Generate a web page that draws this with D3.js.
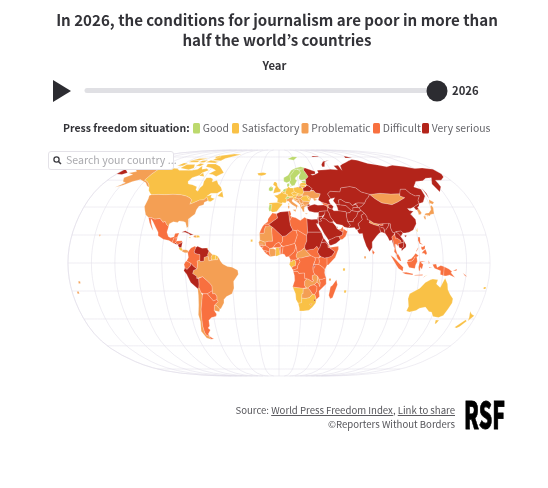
<!DOCTYPE html>
<html>
<head>
<meta charset="utf-8">
<script src="https://cdn.jsdelivr.net/npm/d3@7"></script>
<style>
  html, body { margin: 0; background: #fff; }
  svg { display: block; font-family: "Noto Sans CJK KR", "Noto Sans", sans-serif; filter: blur(0.3px); }
  .underlined { text-decoration: underline; }
</style>
</head>
<body>
<div id="main-frame"></div>
<script>
const titleLines = ["In 2026, the conditions for journalism are poor in more than", "half the world’s countries"];
const years = [2013, 2026];
const currentYear = 2026;
const situations = ["Good", "Satisfactory", "Problematic", "Difficult", "Very serious"];
const situationColors = ["#bcd96d", "#f9c146", "#f49f54", "#f8703f", "#b3241a"];

// Country outlines, [name, [lon,lat,lon,lat,...], ...] - rough
const good = [
  ["Norway", [5,59,5,62,10,64,14,68,20,70,26,71,31,70,29,69,25.7,69,21,69,18,68.5,14.5,65.5,12,63.5,12.2,60,11,59,8,58], [12,78,20,80.3,27,80,20,77]],
  ["Sweden", [11,59,12.2,60,12,63.5,14.5,65.5,18,68.5,21,69,23.7,67.8,24,65.8,21.5,64.5,17.5,62,17.2,60.7,18.8,59.8,16.5,57,15.8,56,13,55.4,11,58]],
  ["Finland", [21,69,25.7,69,29,69.5,28.5,68,30,65.5,31.5,62.8,27.8,60.5,23,59.9,21.2,61,21.5,63,24,65.8,23.7,67.8]],
  ["Denmark", [8.1,55,8.2,57,10.6,57.7,10.5,56,9.8,54.9], [11,55.3,12.5,56,12.3,55]],
  ["Estonia", [23.5,58.8,23.5,59.3,28,59.5,27.5,57.6,24.5,58]],
  ["Ireland", [-10,52,-10,54,-8,55.2,-6,54.2,-6,52.3,-8,51.6]],
  ["Netherlands", [3.4,51.4,4.8,53,7,53.5,7,52.3,6,51,5.8,50.8,4.5,51.3]],
  ["Portugal", [-8.9,41.9,-6.5,41.8,-7,39.6,-7.4,37.2,-8.9,37,-9.5,38.8]],
  ["Switzerland", [6,46.2,7.6,47.6,9.6,47.5,10.4,46.8,8.7,46,7.5,45.8]]
];

const satisfactory = [
  ["Canada", [-141,69.6,-135,69,-128,70,-120,69.5,-115,68,-108,68,-100,68,-95,69,-94,72,-90,69,-85,69.5,-81,68,-86,66,-87,64,-93,62,-94.5,59,-92.5,57,-88,56.5,-82.5,55,-82,52.5,-79.5,51.5,-79,54,-77,56,-78,59,-77.5,62,-73,62,-70,61,-69,58.5,-65,60,-62,57,-58,54.5,-56,52,-60,50,-66,50,-69,48,-65,49,-65,47,-61,46,-64,44,-66,44,-67.5,45.5,-69,47.3,-71,45.2,-75,45,-79,43.5,-83,42,-82.5,45,-84.5,46.5,-89,48,-95,49,-110,49,-123,49,-125,50,-128,52,-130,54.5,-133,57,-137,59,-141,60],
    [-62,66,-68,63,-73,64.5,-78,65,-73,68,-80,70,-88,71,-90,73.5,-80,73.5,-72,71.5,-67,69],
    [-117,70,-105,68.5,-101,70,-105,73,-115,73],
    [-90,77,-78,76.5,-76,78.5,-66,81.5,-62,82.5,-75,83,-90,81.5],
    [-125,72,-118,72,-116,74,-122,74.5],
    [-95,75,-82,74.5,-80,75.5,-92,76.8],
    [-117,75,-106,75,-106,76.5,-117,76.5],
    [-59,48,-53,47,-55.5,51.5],
    [-87,63.5,-81,63,-85,66],
    [-95,80,-88,78.5,-86,80,-92,81.5],
    [-102,72,-96,71.5,-94,73.5,-100,74],
    [-120,76,-108,77,-100,78.5,-112,78.5],
    [-104,75,-97,74.8,-96,76.8,-103,76.5]],
  ["Iceland", [-24,65.5,-18,66.3,-14,65.5,-15,64.3,-19,63.5,-22.5,64]],
  ["United Kingdom", [-5.5,50,-1,50.7,1.4,51.2,1.7,52.7,0,53.5,-1.6,55.5,-2,57.6,-3.5,58.6,-5,58.6,-6,56.5,-3.2,54.9,-4.5,53.3,-5,51.7], [-8,55,-5.6,54.6,-6.3,54.1,-8,54.4]],
  ["Germany", [7,53.5,8.9,54,8.8,54.9,9.8,54.9,11,54,14.2,53.9,14.6,52.5,15,51,12.2,50.2,13.8,48.6,13,47.5,7.6,47.6,8.2,49,6.3,49.5,6,51,7,52.3]],
  ["Belgium", [2.6,51.1,3.4,51.4,4.5,51.3,5.8,50.8,6,50.2,5.8,49.6,4.2,50]],
  ["France", [2.6,51.1,4.2,50,5.8,49.6,6.3,49.5,8.2,49,7.6,47.6,6,46.2,7.5,45.8,7,44,6,43,3,43.2,3,42.4,-1.7,43.3,-1.2,46,-4.7,48.3,-1.5,48.7,1.5,50], [8.7,41.6,8.7,42.7,9.5,43,9.4,41.5], [-54,5.8,-51.7,4.3,-52.5,2.3,-54.5,2.3]],
  ["Spain", [-9.3,43,-8.9,41.9,-6.5,41.8,-7,39.6,-7.4,37.2,-6,36.2,-2,36.8,0,39,3,41.7,3,42.4,-1.7,43.3]],
  ["Poland", [14.2,53.9,18.5,54.8,22.8,54.4,23.8,53.2,24,50.6,22.6,49.1,19,49.5,15,51,14.6,52.5]],
  ["Latvia", [21,56.9,22.6,57.7,24.5,58,27.5,57.6,28.2,56.1,26,55.8,21,56.3]],
  ["Lithuania", [21,56.3,26,55.8,26.7,55,24,54,22.8,54.4,21,55.3]],
  ["Czechia", [12.2,50.2,15,51,19,49.5,17,48.8,13.8,48.6]],
  ["Austria", [9.6,47.5,13,47.5,13.8,48.6,17,48.8,16.2,46.9,13.7,46.5,10.4,46.8]],
  ["Slovakia", [17,48.8,19,49.5,22.6,49.1,22.2,48.4,18.8,47.9]],
  ["Slovenia", [13.7,46.5,16.2,46.9,16.6,46.5,15.5,45.5,13.7,45.6]],
  ["Moldova", [26.6,48.2,28,48.2,30,46.4,28.2,45.5]],
  ["Romania", [20.3,46.2,22.9,48,26.6,48.2,28.2,45.5,29.6,45,28.6,43.7,27.5,44,22.5,44.2]],
  ["Costa Rica", [-85.7,11.1,-83.7,11,-82.6,9.5,-83.6,8.5,-85.8,10]],
  ["Dominican Republic", [-71.7,18,-68.5,18.4,-69.5,19.7,-71.7,19.8]],
  ["Jamaica", [-78.3,18.5,-76.3,18.3,-77,17.7]],
  ["Suriname", [-57,6,-54,5.8,-54.5,2.3,-57.5,2,-58,4]],
  ["Trinidad and Tobago", [-61.9,10.9,-60.9,10.8,-60.9,10,-61.9,10]],
  ["Cape Verde", [-24.4,16.8,-22.8,16.8,-22.8,15.1,-24.4,15.1]],
  ["Ghana", [-2.8,11,0,11,0.5,8,1.1,6,-2,4.8,-3,5.1,-2.8,9.5]],
  ["Gabon", [9.5,1,11.3,1,11.3,2.2,13.3,2.2,14.3,1,14,-2,11.5,-2.5,11,-3.8,8.8,-1]],
  ["Namibia", [11.8,-17,14,-17.4,20.5,-18,25,-17.8,21,-18.3,21,-22,20,-22,20,-28.4,17,-28.8,15,-26,14.4,-22]],
  ["South Africa", [17,-28.8,20,-28.4,20,-25,23,-25.3,26.7,-24.7,29.3,-22.2,31.3,-22.4,32.9,-26.5,32.5,-28.5,30,-31.5,27,-33.7,22,-34.2,18.5,-34.3,18.2,-32]],
  ["Seychelles", [54.6,-3.8,56.4,-3.8,56.4,-5.6,54.6,-5.6]],
  ["Mauritius", [56.6,-19.4,58.4,-19.4,58.4,-21.2,56.6,-21.2]],
  ["Taiwan", [120.2,23,121.5,25.2,121,22]],
  ["Timor-Leste", [125,-9.2,127.3,-8.4,125.2,-9.5]],
  ["Australia", [114,-22,122,-18,126,-14,130,-12,132,-11.5,136.5,-12,135.7,-15,139.5,-17.5,141.7,-12.5,142.5,-10.8,145.3,-15,146.5,-19,149.5,-22.5,153,-25.5,153.5,-28.5,150,-37.5,146.5,-39,141,-38.2,138,-35,135.7,-34.8,131,-31.5,126,-32.3,123.5,-34,118,-35,115,-34.3,115.7,-31,113.5,-25.5], [145,-40.8,148.3,-41,147,-43.5,146,-43.5]],
  ["New Zealand", [172.7,-34.5,175.5,-36.7,178.5,-37.7,175.3,-41.5,174.7,-39], [172.7,-40.5,174.3,-41.7,171,-45.5,169,-46.6,166.5,-46,170,-43]],
  ["Fiji", [177.2,-17.2,179,-17.2,179,-18.6,177.2,-18.6]]
];

const problematic = [
  ["United States", [-124.7,48.4,-123,49,-110,49,-95,49,-89,48,-84.5,46.5,-82.5,45,-83,42,-79,43.5,-75,45,-71,45.2,-69,47.3,-67.5,45.5,-67,44.5,-70,43.5,-70,41.7,-74,40.5,-75.5,38,-76,35,-81,31.5,-80,26,-81,25,-83,29,-85,29.7,-89,30,-90,29,-94,29.5,-97,28,-97.2,26,-99.5,27.5,-101.5,29.8,-103,29,-106.5,31.8,-111,31.3,-114.8,32.5,-117.1,32.5,-120.5,34.5,-122.5,37.5,-124.3,40.3,-124,46],
    [-141,69.6,-141,60,-137,59,-133,57,-130,54.5,-133,55.5,-137,58,-146,60.5,-152,59,-158,56,-164,54.5,-158,58,-162,59,-166,62,-161,64.5,-168,65.7,-162,67,-166,68.5,-157,71,-150,70.5],
    [-156,20.5,-155,20,-155.5,19,-156,19.5]],
  ["Panama", [-82.6,9.5,-79.5,9.5,-77.3,8.6,-78,7.3,-80.5,7.3,-83,8.2]],
  ["Haiti", [-74.4,18.5,-72,18,-71.7,19.7,-73.3,19.9]],
  ["Guyana", [-60,8.5,-57,6,-58,4,-57.5,2,-59.8,1.5,-60,3,-60.7,5,-61,6]],
  ["Brazil", [-60.7,5,-60,3,-59.8,1.5,-57.5,2,-54.5,2.3,-52.5,2.3,-51.7,4.3,-50,1.5,-48,-0.7,-44,-2.5,-40,-3,-35.3,-5.2,-34.8,-8,-39,-13,-39,-18,-41,-22,-46,-24,-48.5,-26,-48.8,-28.5,-52,-32.5,-53.2,-33,-56,-30.2,-57.6,-30.2,-53.8,-27.5,-54.7,-26,-54.5,-24,-55.7,-22,-57.9,-22,-58,-19.8,-58,-16.3,-60.5,-13.7,-65.5,-9.8,-70.6,-11,-70.5,-9.5,-73.9,-7.5,-72.9,-5.2,-70,-4.2,-69.5,-0.5,-70,1.5,-67.5,2,-67,1,-64,1.5,-64,4]],
  ["Chile", [-70.4,-18.3,-69.4,-17.5,-69,-18,-68,-21,-67,-23,-70,-33,-71,-39,-72,-45,-72,-50,-71,-52,-68.5,-52.5,-68.6,-55,-72,-54,-75,-49,-73,-42,-73.5,-37,-71.5,-30,-70.5,-23]],
  ["Uruguay", [-57.6,-30.2,-56,-30.2,-53.2,-33,-54,-34.8,-58.4,-34]],
  ["Italy", [7,44,7.5,45.8,8.7,46,10.4,46.8,13.7,46.5,13.7,45.6,12.3,45.3,12.4,44,16,41.8,18.5,40.2,17,40.5,16.5,39.5,16,38,15.7,40,12.3,41.7,10.5,43,8.8,44.4], [12.5,38,15.6,38.2,15.1,36.7], [8.2,41,9.7,41,9.5,39.2,8.4,39]],
  ["Hungary", [16.2,46.9,17,48.8,18.8,47.9,22.2,48.4,22.9,48,20.3,46.2,18.8,45.9,16.6,46.5]],
  ["Croatia", [13.7,45.6,15.5,45.5,16.6,46.5,18.8,45.9,19,45,15.9,44.7,18.5,42.5,15,44.5,14,45]],
  ["Bosnia", [15.9,44.7,19,45,19.5,43.7,18.5,42.5]],
  ["Serbia", [18.8,45.9,20.3,46.2,22.5,44.5,22.4,42.5,20.5,42.3,19.5,43.7,19,45]],
  ["Montenegro", [18.5,42.5,19.5,43.7,20.5,42.7,19.3,41.9]],
  ["Albania", [19.3,41.9,20.5,42.3,21,40.6,20,39.7]],
  ["North Macedonia", [20.5,42.3,22.4,42.5,23,41.3,21,40.9]],
  ["Greece", [20,39.7,21,40.6,23,41.3,26.3,41.7,26,40.8,23.5,40,23,38,23,36.5,21.7,36.8,21.2,38.3], [23.6,35.6,26.3,35.3,24.5,34.9]],
  ["Bulgaria", [22.4,42.5,22.5,44.2,27.5,44,28.5,43.5,27.7,42,26.3,41.7,23,41.3]],
  ["Ukraine", [22.2,48.4,22.6,49.1,24,50.6,24,51.6,30.5,51.5,34,52.2,35.5,50.4,40,49.6,38.2,47.1,35,46.2,33.6,46,36.5,45.3,33.5,44.5,32.5,45.3,33,46,30.7,46.5,29.6,45,28.2,45.5,30,46.4,28,48.2,26.6,48.2,22.9,48]],
  ["Armenia", [43.6,41,45,41.2,46.5,39,44.8,39.7]],
  ["Mauritania", [-17,21.3,-13,21.3,-13,23.4,-12,26,-8.7,27.3,-4.8,25,-6.5,25,-5.5,15.5,-9,15.5,-12,14.8,-16.5,16.2]],
  ["Senegal", [-17.5,14.7,-16.5,16.2,-12,14.8,-11.3,12.3,-16.8,12.4]],
  ["Ivory Coast", [-8.3,7.6,-8,10.3,-5,10.3,-2.8,9.5,-3,5.1,-7.5,4.4]],
  ["Central African Republic", [14.5,5,15.5,7.5,19,9,22,11,23,9,27.4,5.2,23,4.5,19,3.5,16.5,3.5,16,2.5]],
  ["Botswana", [20,-22,21,-22,21,-18.3,25,-17.8,27,-19.5,29.3,-22.2,26.7,-24.7,23,-25.3,20,-25]],
  ["Zambia", [22,-13,24,-11,25,-11.5,29,-13.4,29.8,-12.2,28.5,-12,28.5,-9,30.7,-8.2,33,-9.3,33.2,-11,32.7,-13.5,30.4,-15.6,27.5,-16,25,-17.8,23.4,-17.6,22,-16]],
  ["Malawi", [33,-9.3,34.5,-11.6,35.5,-14,35.3,-17,34.3,-15,32.7,-13.5,33.2,-11]],
  ["Lesotho", [27,-29.5,29.4,-29,28.5,-30.5]],
  ["Comoros", [42.9,-11,44.6,-11,44.6,-12.6,42.9,-12.6]],
  ["Mongolia", [87.5,49.2,98,50,108,49.5,117,49.7,116,48,119.9,46.8,111,43.5,105,41.7,96,43,91,46]],
  ["Japan", [131,34,133,35.5,136,35.8,139,38,140,40.5,141.4,41.3,142,39.5,141,37,140.5,35.2,137,34.6,135.7,33.5,133,34.3], [130,33.3,131.8,33.5,131.4,31.3,130.3,31.3], [140,41.8,141.7,45.4,145.2,43.5,143,42,141,42.7], [132.5,33.5,134.5,34.3,134,33.4]],
  ["South Korea", [126,37.8,128.3,38.6,129.4,36,128.5,34.8,126.3,34.5,126.5,36.5]],
  ["Nepal", [80,28.8,81,30.3,84,28.5,88,27.9,88,26.4,84,27.3]],
  ["Maldives", [72.7,4.8,74.2,4.8,74.2,3.2,72.7,3.2]],
  ["Samoa", [-172.6,-13,-171,-13,-171,-14.6,-172.6,-14.6]],
  ["Tonga", [-175.8,-20.4,-174.2,-20.4,-174.2,-22,-175.8,-22]]
];

const difficult = [
  ["Mexico", [-117.1,32.5,-114.8,32.5,-111,31.3,-106.5,31.8,-103,29,-101.5,29.8,-99.5,27.5,-97.2,26,-97.8,22,-96,19,-94,18,-91,18.7,-90.5,21,-87,21.5,-88,18.5,-89,17.9,-91,17.8,-92,14.6,-95,16,-100,17,-105,19.5,-105.5,22,-109,26,-112.5,30,-114.7,31.7,-113,28,-110,23,-112,25,-115,29]],
  ["Guatemala", [-92,14.6,-91,17.8,-89,17.9,-88.3,15.7,-89.3,14.4,-90,13.8]],
  ["Belize", [-89,17.9,-88,18.5,-88.3,16,-89.2,15.9]],
  ["Honduras", [-89.3,14.4,-88.3,15.7,-84,15.9,-83.2,15,-85,14,-87,13,-88,13.8]],
  ["Colombia", [-77.3,8.6,-75.5,10.8,-72,12.2,-71.3,11,-72.5,8,-72,7,-70,6.5,-67.5,6,-67.5,2,-70,1.5,-69.5,-0.5,-70,-4.2,-73,-2.3,-75.3,-0.1,-78.8,1.4,-77.3,4,-78,7.3]],
  ["Ecuador", [-78.8,1.4,-75.3,-0.1,-75.5,-2,-78.5,-4.7,-80.3,-3.4,-81,-1,-80,0.8]],
  ["Bolivia", [-69,-11,-65.5,-9.8,-60.5,-13.7,-58,-16.3,-58,-19.8,-62.5,-22,-66.2,-22,-68,-21,-69,-18,-69.4,-17.5,-69,-15]],
  ["Argentina", [-66.2,-22,-62.5,-22,-58,-27,-54.7,-26,-53.8,-27.5,-57.6,-30.2,-58.4,-34,-56.8,-36.5,-57.5,-38,-62,-39,-65,-41,-65.5,-45,-67.5,-46.5,-65.8,-48,-69,-51,-68.5,-52.5,-71,-52,-72,-50,-72,-45,-71,-39,-70,-33,-67,-23], [-68.6,-52.7,-65.2,-54.8,-68.6,-55]],
  ["Paraguay", [-62.5,-22,-58,-19.8,-57.9,-22,-55.7,-22,-54.5,-24,-54.7,-26,-58,-27]],
  ["Georgia", [40,43.5,41.5,41.5,43.6,41,46.4,41.2,46.4,41.9,43.8,42.6]],
  ["Morocco", [-9.8,31.5,-6,35.8,-2.2,35.1,-1.2,32.1,-5,30,-8.7,27.7,-13,27.7,-10,29.5]],
  ["Western Sahara", [-13,27.7,-8.7,27.7,-8.7,26,-12,26,-13,23.4,-13,21.3,-17,21.3,-16,23.5,-14.5,26]],
  ["Tunisia", [8.5,36.9,10,37.3,11,35,10.3,33.5,11.5,33,9.5,30]],
  ["Libya", [11.5,33,15,32.3,19,30.3,23,32.6,25,31.6,25,22,24,19.5,16,23.5,15,23,12,23.5,10,27,9.5,30]],
  ["Mali", [-12,14.8,-9,15.5,-5.5,15.5,-6.5,25,-4.8,25,3,19,3,15.3,1,13.3,0,14.9,-3,13.5,-5,11,-8,10.3,-11.3,12.3]],
  ["Niger", [3,19,6,19.5,12,23.5,15,23,16,20,13.5,14,9,12.8,3.6,11.7,1,13.3,3,15.3]],
  ["Chad", [15,23,16,23.5,24,19.5,24,15.7,22.5,13,22,11,19,9,15.5,7.5,15,10,14,13,13.5,14,16,20]],
  ["Gambia", [-16.8,13.6,-14,13.6,-14,13.1,-16.8,13.1]],
  ["Guinea-Bissau", [-16.8,12.4,-13.7,12.5,-13.7,11,-15,11]],
  ["Guinea", [-15,11,-13.7,11,-13.7,12.5,-11.3,12.3,-8,10.3,-8.3,7.6,-10.3,8.5,-13.3,9]],
  ["Sierra Leone", [-13.3,9,-10.3,8.5,-11.4,6.9]],
  ["Liberia", [-11.4,6.9,-10.3,8.5,-8.3,7.6,-7.5,4.4]],
  ["Burkina Faso", [-5,11,-3,13.5,0,14.9,1,13.3,2.3,12,0,11,-2.8,11]],
  ["Togo", [0,11,1,11,1.7,6.2,1.1,6,0.5,8]],
  ["Benin", [1,11,2.3,12,3.6,11.7,2.7,6.4,1.7,6.2]],
  ["Nigeria", [2.7,6.4,3.6,11.7,9,12.8,13.5,14,14,13,14.5,11.5,13,8,11,6.5,8.5,4.6,6,4.3,4.5,6.3]],
  ["Cameroon", [8.5,4.6,11,6.5,13,8,14.5,11.5,14,13,15,10,15.5,7.5,14.5,5,16,2.5,14,2.2,9.8,2.2]],
  ["Equatorial Guinea", [9.8,2.2,11.3,2.2,11.3,1,9.5,1]],
  ["Congo", [11,-3.8,11.5,-2.5,14,-2,14.3,1,13.3,2.2,16,2.5,16.5,3.5,18,1,16,-2,15.8,-4,14,-4.5,12,-5]],
  ["DR Congo", [12.2,-6,12,-5,14,-4.5,15.8,-4,16,-2,18,1,16.5,3.5,19,3.5,23,4.5,27.4,5.2,31,3.8,31,2,29.6,-0.6,29,-2.8,29,-4.5,29.5,-6.5,30.7,-8.2,28.5,-9,28.5,-12,29.8,-12.2,29,-13.4,25,-11.5,22,-11,21.8,-7.2,17,-7.5,16,-6]],
  ["Angola", [11.8,-17,13.5,-12.5,13.2,-9,12.2,-6,16,-6,17,-7.5,21.8,-7.2,22,-11,24,-11,22,-13,22,-16,23.4,-17.6,20.5,-18,14,-17.4]],
  ["Zimbabwe", [25,-17.8,27.5,-16,30.4,-15.6,32.9,-16.8,32.8,-20,31.3,-22.4,29.3,-22.2,27,-19.5]],
  ["Mozambique", [30.4,-15.6,32.7,-13.5,34.3,-15,35.3,-17,35.5,-14,34.5,-11.6,37,-11.6,40.4,-10.5,40.7,-15,36.5,-18.5,34.8,-20,35.5,-24,32.9,-26,31.3,-22.4,32.8,-20,32.9,-16.8]],
  ["Tanzania", [30.7,-8.2,29.5,-6.5,29,-4.5,30.5,-2.5,30.5,-1,34,-1,37.5,-3,39.2,-4.7,39,-7,39.5,-9,40.4,-10.5,37,-11.6,34.5,-11.6,33,-9.3]],
  ["Burundi", [29,-2.8,30.5,-2.5,29.5,-4.5,29,-4.5]],
  ["Uganda", [29.6,-1.4,31,2,31,3.8,34,3.8,34.5,1,34,-1,30.5,-1]],
  ["Kenya", [34,-1,34.5,1,34,3.8,36,4.5,39,3.5,41,4,41,-1.5,39.2,-4.7,37.5,-3]],
  ["South Sudan", [23,9,27.4,5.2,31,3.8,34,3.8,35,5,33,7.8,34,10,32.5,12,30,10,26,9.5]],
  ["Somalia", [43.2,11,43.5,11,51,12,51,10,48,4,42,-1.5,41,-1.5,41,4,42,4,45,5,47.8,8]],
  ["Djibouti", [42,12.8,43.3,12.5,43.2,11,42,11]],
  ["Madagascar", [49.3,-12,50.4,-15.5,47,-24.9,45,-25.5,43.5,-23,44.5,-17,46,-16]],
  ["Lebanon", [35.2,33.1,36,33,36.5,34.5,35.9,34.7]],
  ["Oman", [55.7,22,56.3,24,56.6,24.5,59.8,22.5,57.7,19,55,17,53,16.6,52,19,55,20]],
  ["United Arab Emirates", [51.5,24.2,54,24.1,56.4,26,56.3,24,55.7,22]],
  ["Bhutan", [88.8,27.3,89,28,92,28,92,26.9,89.8,26.7]],
  ["Sri Lanka", [80,9.5,81.8,7.5,80.5,6,79.8,7.5]],
  ["Thailand", [97.7,18.5,100,20.3,100.7,20,101,17.5,102,18,105,16,105.5,14.3,102.5,13.7,102,12,100.9,13.4,100,13.3,100,10,101,6.8,102,6,100.2,6.5,98.5,8,99,10,98.5,15]],
  ["Malaysia", [100.2,6.5,102,6,103.4,4,104.2,1.4,103.4,1.4,101.3,2.9,100.4,5], [109.6,2,111.3,2.7,113,3.2,115,5,116.8,7,119.2,5.2,117.6,4.2,115.8,4.2,115,2.5,113,1.3,110,1]],
  ["Indonesia", [95.3,5.6,98,4,103.5,-1,106,-3,105.7,-5.9,102,-4,100,-1.5,97.5,2.2],
    [105.2,-6.8,108.7,-6.6,114.5,-7.7,114.5,-8.6,108,-7.8],
    [109,0.5,110,1,113,1.3,115,2.5,115.8,4.2,117.6,4.2,118,1,116.5,-1.5,116,-4,111,-3.3,110,-1.5],
    [119.5,-5.5,119,-3,120,1,125,1.5,121,0.4,123,-1,122,-4.5,120.5,-3,120.5,-5.5],
    [131,-1,134,-0.8,135,-3.3,138,-1.7,141,-2.6,141,-9.1,138,-8.2,138,-5.5,133,-4,132,-2.8],
    [116,-8.5,123,-8.3,122.8,-8.9,116,-9],
    [123.5,-10.3,125,-9.2,124.9,-9.8],
    [127.5,2,128.5,0,127.7,-0.7],
    [128,-3,130.8,-3.3,128,-3.6]],
  ["Philippines", [120.5,18.5,122.2,18.4,121.7,14.5,124,13,121,13.8,120,16], [122,7,123.5,8.6,125.5,9.8,126.5,7,125.5,5.8,124,7], [122,11.8,123.2,11.5,125.5,12.5,125,10,123,9.3,122,10], [117.2,8.4,119.5,11.3,119.3,10.3,117.8,8.4]],
  ["Papua New Guinea", [141,-2.6,145,-4.3,147.8,-6,147,-7,150.8,-10.3,146,-8.5,143,-9.2,141,-9.1], [148.5,-5.6,152,-4.2,151.5,-5.6]],
  ["Solomon Islands", [157,-7,160,-9,161,-10,159,-9]]
];

const verySerious = [
  ["Russia", [28,59.5,27.8,60.5,31.5,62.8,30,65.5,28.5,68,29,69.5,31,70,41,67,40,65,35,64.5,37,64,40,64.7,44,66,44,68,54,68.5,60,69,68,68.5,67,72,73,72.5,72.5,68,75,72,80,73.5,87,75,100,77.5,106,77,113,74,130,71,140,72.5,160,69.5,170,70,180,69,180,65,177,62.5,170,60,164,60,163,57.5,162.5,55,157,51,156,57,163,62,156,61.5,150,59.5,142,59,135,54.7,140.5,53,140,48,135,43.5,130.7,42.5,131,44.9,135,48.4,130.5,48,127,50,125,53,120,53,117,49.7,108,49.5,98,50,87.5,49.2,80,51,76.5,54,71,55,61.5,54,59.5,51,50,51.5,47,49.5,49,46,47,45,47.5,43,48.5,41.8,46.4,41.9,43.8,42.6,40,43.5,37,45,38.2,47.1,40,49.6,35.5,50.4,34,52.2,31,52.2,32.7,53.4,31,55,28.2,56.1,27.5,57.6],
    [142,54,143,50,142.5,46,142,50],
    [-180,69,-170,66,-173,64.5,-180,65],
    [52,71,55,71,60,75.5,68,77,58,75.8,53,73],
    [95,79,105,79,100,81],
    [50,80,60,80.5,60,81,50,81],
    [20,54.4,22.8,54.4,21,55.3]],
  ["Belarus", [23.8,53.2,24,54,26.7,55,28.2,56.1,31,55,32.7,53.4,31,52.2,30.5,51.5,24,51.6]],
  ["Turkey", [26.2,40,29,41.1,33,42,36,41.3,41.5,41.5,43.6,41,44.8,39.7,44.5,37.2,42,37.2,36.5,36.7,36,36,32.5,36.1,30.5,36.5,27.5,37,26.5,38.5], [26.3,41.7,28,42,29,41.2,26.2,40.3]],
  ["Azerbaijan", [45,41.2,46.4,41.2,46.4,41.9,48.5,41.8,50.3,40.3,48.9,38.4,46.5,39]],
  ["Kazakhstan", [47,49.5,50,51.5,59.5,51,61.5,54,71,55,76.5,54,80,51,87.5,49.2,85,47,82.5,45.5,80,42.8,74,43,71,42.5,68,41,66,43,62,43.5,58.5,45.5,56,45,56,41.5,53,42,51,44.5,53,46.8,49,46]],
  ["Uzbekistan", [56,45,58.5,45.5,62,43.5,66,43,68,41,71,42,73,40.5,71,39.7,68,39.5,67.5,37.2,66,37.5,62,41,57,41.5,56,41.5]],
  ["Turkmenistan", [53,42,56,41.5,57,41.5,62,41,66,37.5,64.5,36,61,35.6,61,36.6,54,37.3,53.8,39.5]],
  ["Kyrgyzstan", [71,42.5,74,43,80,42.8,76,40.3,73.5,39.5,71,39.7,73,40.5]],
  ["Tajikistan", [68,39.5,71,39.7,73.5,39.5,75,37.5,71.5,36.7,67.5,37.2]],
  ["Afghanistan", [61,35.6,64.5,36,66,37.5,67.5,37.2,71.5,36.7,75,37.5,71.5,36,70,33.5,66.5,31,66,29.5,61,29.7,60.7,33.5]],
  ["Pakistan", [61,25,66.5,25.3,67.5,23.8,71,24.5,70,28,74.5,31,74,34,77.5,35.5,75,37.5,71.5,36,70,33.5,66.5,31,66,29.5,61,29.7,63,27]],
  ["Iran", [44.5,37.2,44.8,39.7,46.5,39,48.9,38.4,50,37.3,54,37.3,61,36.6,61,35.6,60.7,33.5,61,29.7,63,27,61,25,57.5,25.7,56,27,51,27.8,48.5,30,46,33,45.5,35.5]],
  ["Iraq", [42,37.2,44.5,37.2,45.5,35.5,46,33,48.5,30,47.7,29.5,46.5,29,44.7,29.2,42,31.2,39,32,41,34.5,41.3,36.7]],
  ["Syria", [35.8,35.8,36.5,36.7,42,37.2,41.3,35,38.8,33.4,36,33,35.9,34.7]],
  ["Jordan", [35.5,32.4,36,33,38.8,33.4,39.2,32.1,37,31.5,38,30,36,29.2,35,29.5]],
  ["Israel", [34.3,31.3,35,33,35.5,32.4,35,29.5]],
  ["Saudi Arabia", [35,29.5,38,30,37,31.5,39.2,32.1,42,31.2,44.7,29.2,46.5,29,48,28.5,50,26.5,51,24.5,55.7,22,55,20,52,19,49,18.5,46,17.3,43.2,16.5,42.7,16.5,39,21.5,37,25,35,28]],
  ["Kuwait", [46.5,29,47.7,30,48.3,29]],
  ["Qatar", [50.8,24.7,51.5,25,51.2,26,50.8,26]],
  ["Yemen", [43.2,16.5,46,17.3,49,18.5,52,19,53,16.6,49,14,45,12.7,43.5,12.7,42.8,14.8]],
  ["Egypt", [25,31.6,29,31,32,31.2,34.3,31.3,35,29.5,34,27.7,33,28.3,34,26,37,22,25,22]],
  ["Algeria", [-1.2,32.1,-2.2,35.1,1,36.5,8.5,36.9,9.5,30,10,27,12,23.5,6,19.5,3,19,-4.8,25,-8.7,27.3,-8.7,27.7,-5,30]],
  ["Sudan", [24,19.5,25,22,37,22,38.5,18,36.5,14.5,35,11,34,10,32.5,12,30,10,26,9.5,23,9,22,11,22.5,13,24,15.7]],
  ["Eritrea", [36.5,14.5,38.5,18,43,12.7,42,12.8,40,15,37,14.5]],
  ["Ethiopia", [34,10,35,11,36.5,14.5,37,14.5,40,15,42,12.8,42,11,43,11,47.8,8,45,5,42,4,41,4,39,3.5,36,4.5,35,5,33,7.8]],
  ["Rwanda", [29,-2.8,29.6,-1.4,30.5,-1,30.5,-2.5]],
  ["Eswatini", [30.8,-26,32,-26,31.8,-27.3,30.8,-27]],
  ["China", [73.5,39.5,76,40.3,80,42.8,82.5,45.5,85,47,87.5,49.2,91,46,96,43,105,41.7,111,43.5,119.9,46.8,116,48,117,49.7,120,53,125,53,127,50,130.5,48,135,48.4,131,44.9,130.7,42.5,128,41.5,124.3,40,121,39,118,39,119,37.5,122.5,37,119,35,122,31,121.5,28,117.5,23.5,113.5,22,110,21.5,108,21.5,106.6,22.8,102,22.4,101,21.5,99,22,98,25,98.5,28,92,28,88,27.9,84,28.5,81,30.3,78.8,31,79,33,77.5,35.5,75,37.5], [108.7,19.5,110.8,20,110,18.3]],
  ["North Korea", [124.3,40,128,41.5,130.7,42.5,129.7,41,127.5,39.5,128.3,38.6,126,37.8,125,38.5]],
  ["India", [68.5,23.5,71,24.5,70,28,74.5,31,74,34,77.5,35.5,79,33,78.8,31,81,30.3,80,28.8,84,27.3,88,26.4,88,27.9,89.8,26.7,92,26.9,92,28,97,28.3,97,27,94,24,93,22,92,24.5,92,25,89.8,25.3,88.5,24,88.8,22,87,21,85,19.5,80.3,15,80,11,77.5,8,75,12,73,18,72.7,21,70,20.8,69,22]],
  ["Bangladesh", [88.1,26.3,89.8,25.3,92,25,92,24,92.5,21,90,22,88.8,22,88.5,24]],
  ["Myanmar", [92.5,21,92.2,23,94,24,97,27,97,28.3,98.5,28,98,25,99,22,101,21.5,100,20.3,97.7,18.5,98.5,15,99,10,98.5,12,97.5,16.5,95.3,15.8,94.2,18.5]],
  ["Laos", [101,21.5,102,22.4,104.5,20.5,107,17,107.6,15,105.5,14.3,105,16,102,18,101,17.5,100.7,20]],
  ["Cambodia", [102.5,13.7,105.5,14.3,107.6,15,107,11.5,105,10.4,103,11,102.9,11.8]],
  ["Vietnam", [102,22.4,106.6,22.8,108,21.5,105.7,19,107.5,16.5,109.3,13,109,11.5,106.7,10,105,8.6,105,10.4,107,11.5,107.6,15,107,17,104.5,20.5]],
  ["Nicaragua", [-87,13,-85,14,-83.2,15,-83.7,11,-85.7,11.1]],
  ["El Salvador", [-90,13.8,-89.3,14.4,-88,13.8,-87.8,13.2]],
  ["Cuba", [-85,22,-82,23,-77,21,-74.2,20.2,-77.5,19.9,-78,20.7,-82,22]],
  ["Venezuela", [-71.3,11,-70,12,-66,10.6,-62,10.7,-60,8.5,-61,6,-60.7,5,-64,4,-64,1.5,-67,1,-67.5,2,-67.5,6,-70,6.5,-72,7,-72.5,8]],
  ["Peru", [-80.3,-3.4,-78.5,-4.7,-75.5,-2,-75.3,-0.1,-73,-2.3,-70,-4.2,-72.9,-5.2,-73.9,-7.5,-70.5,-9.5,-70.6,-11,-69,-11,-69,-15,-69.4,-17.5,-70.4,-18.3,-76,-14,-79,-8,-81.3,-5.5]]
];

const naturalEarth2Raw = (lambda, phi) => {
  const phi2 = phi * phi, phi4 = phi2 * phi2, phi6 = phi2 * phi4;
  return [
    lambda * (0.84719 - 0.13063 * phi2 + phi6 * phi6 * (-0.04515 + 0.05494 * phi2 - 0.02326 * phi4 + 0.00331 * phi6)),
    phi * (1.01183 + phi4 * phi4 * (-0.02625 + 0.01926 * phi2 - 0.00396 * phi4)),
  ];
};

const width = 548;
const height = 488;

const svg = d3
  .select("#main-frame")
  .append("svg")
  .attr("width", width)
  .attr("height", height);

svg
  .selectAll(".title")
  .data(titleLines)
  .enter()
  .append("text")
  .attr("class", "title")
  .attr("x", 277)
  .attr("y", (d, i) => 25.5 + i * 20.5)
  .attr("text-anchor", "middle")
  .attr("font-size", 15.1)
  .attr("font-weight", 700)
  .attr("fill", "#333338")
  .text((d) => d);

// Year slider
const yearScale = d3.scaleLinear().domain(years).range([87, 437]);

svg
  .append("text")
  .attr("x", 274.5)
  .attr("y", 70)
  .attr("text-anchor", "middle")
  .attr("font-size", 11.3)
  .attr("font-weight", 700)
  .attr("fill", "#333338")
  .text("Year");

svg
  .append("path")
  .attr("d", "M53,80L71,91L53,102Z")
  .attr("fill", "#2c2c31");

svg
  .append("line")
  .attr("x1", yearScale(years[0]))
  .attr("x2", yearScale(years[1]))
  .attr("y1", 90.5)
  .attr("y2", 90.5)
  .attr("stroke", "#e0e0e4")
  .attr("stroke-width", 5)
  .attr("stroke-linecap", "round");

svg
  .append("circle")
  .attr("cx", yearScale(currentYear))
  .attr("cy", 91)
  .attr("r", 10.5)
  .attr("fill", "#2c2c31");

svg
  .append("text")
  .attr("x", 452)
  .attr("y", 95)
  .attr("font-size", 11.3)
  .attr("font-weight", 700)
  .attr("fill", "#333338")
  .text(currentYear);

// Legend
svg
  .append("text")
  .attr("x", 63)
  .attr("y", 132)
  .attr("font-size", 10.5)
  .attr("font-weight", 700)
  .attr("fill", "#333338")
  .text("Press freedom situation:");

const legendX = [193, 232, 301.5, 373, 422];
const legend = svg
  .selectAll(".legend-item")
  .data(situations)
  .enter()
  .append("g")
  .attr("class", "legend-item")
  .attr("transform", (d, i) => `translate(${legendX[i]}, 123)`);

legend
  .append("rect")
  .attr("width", 7)
  .attr("height", 10.5)
  .attr("rx", 1.5)
  .attr("fill", (d, i) => situationColors[i]);

legend
  .append("text")
  .attr("x", 9.8)
  .attr("y", 9.2)
  .attr("font-size", 10.4)
  .attr("fill", "#66666b")
  .text((d) => d);

// Map
const projection = d3.geoProjection(naturalEarth2Raw).scale(79.3).translate([279, 263]).precision(0.2);
const path = d3.geoPath(projection);

const toPolygon = (flat) => {
  const ring = d3.range(0, flat.length, 2).map((i) => [flat[i], flat[i + 1]]);
  ring.push(ring[0]);
  // d3 wants the small side inside, so flip rings that came out the wrong way round
  if (d3.geoArea({ type: "Polygon", coordinates: [ring] }) > 2 * Math.PI) ring.reverse();
  return [ring];
};

const features = [good, satisfactory, problematic, difficult, verySerious].flatMap((group, level) =>
  group.map(([name, ...rings]) => ({
    type: "Feature",
    properties: { name, level },
    geometry: { type: "MultiPolygon", coordinates: rings.map(toPolygon) },
  }))
);

const graticule = d3
  .geoGraticule()
  .extent([[-180, -90], [180, 90.001]])
  .step([20, 20]);

svg
  .append("path")
  .datum(graticule())
  .attr("d", path)
  .attr("fill", "none")
  .attr("stroke", "#dfdbe6")
  .attr("stroke-width", 0.5);

svg
  .append("path")
  .datum({ type: "Sphere" })
  .attr("d", path)
  .attr("fill", "none")
  .attr("stroke", "#dfdbe6")
  .attr("stroke-width", 0.5);

svg
  .selectAll(".country")
  .data(features)
  .enter()
  .append("path")
  .attr("class", "country")
  .attr("d", path)
  .attr("fill", (d) => situationColors[d.properties.level])
  .attr("stroke", "#fff")
  .attr("stroke-opacity", 0.55)
  .attr("stroke-width", 0.4);

// Search box
const search = svg.append("g").attr("transform", "translate(48, 151)");

search
  .append("rect")
  .attr("x", 0.5)
  .attr("y", 0.5)
  .attr("width", 125)
  .attr("height", 18)
  .attr("rx", 2.5)
  .attr("fill", "#fff")
  .attr("stroke", "#e4e2e8");

search
  .append("circle")
  .attr("cx", 8.5)
  .attr("cy", 8.5)
  .attr("r", 2.6)
  .attr("fill", "none")
  .attr("stroke", "#3b3b40")
  .attr("stroke-width", 1.3);

search
  .append("line")
  .attr("x1", 10.5)
  .attr("y1", 10.5)
  .attr("x2", 13)
  .attr("y2", 13)
  .attr("stroke", "#3b3b40")
  .attr("stroke-width", 1.5);

search
  .append("text")
  .attr("x", 18)
  .attr("y", 13)
  .attr("font-size", 10.6)
  .attr("fill", "#aaaaae")
  .text("Search your country ...");

// Footer
const source = svg
  .append("text")
  .attr("x", 455)
  .attr("y", 414)
  .attr("text-anchor", "end")
  .attr("font-size", 9.6)
  .attr("fill", "#55555a");

source.append("tspan").text("Source: ");
source.append("tspan").attr("class", "underlined").text("World Press Freedom Index");
source.append("tspan").text(", ");
source.append("tspan").attr("class", "underlined").text("Link to share");

svg
  .append("text")
  .attr("x", 455)
  .attr("y", 428)
  .attr("text-anchor", "end")
  .attr("font-size", 9.6)
  .attr("fill", "#55555a")
  .text("©Reporters Without Borders");

svg
  .append("text")
  .attr("x", 464)
  .attr("y", 429)
  .attr("font-size", 38)
  .attr("font-weight", 900)
  .attr("textLength", 41)
  .attr("lengthAdjust", "spacingAndGlyphs")
  .attr("fill", "#000")
  .attr("stroke", "#000")
  .attr("stroke-width", 0.8)
  .text("RSF");
</script>
</body>
</html>
